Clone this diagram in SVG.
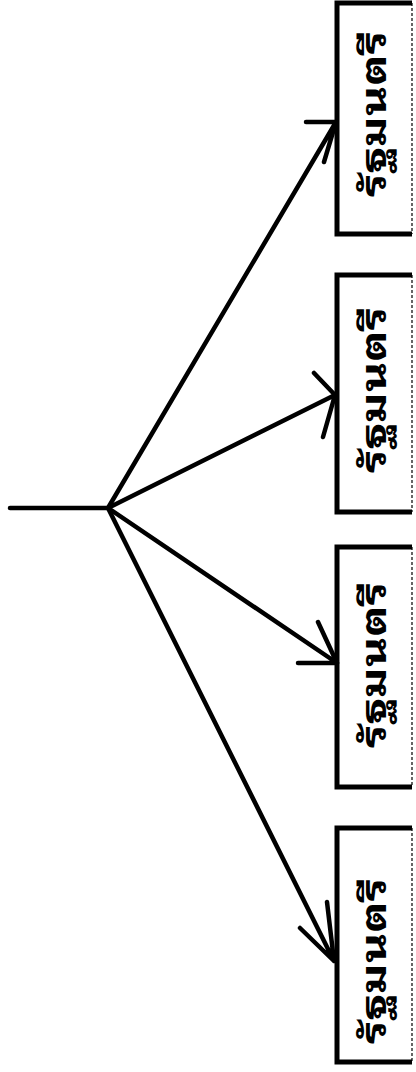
<svg xmlns="http://www.w3.org/2000/svg" width="416" height="1072" viewBox="0 0 416 1072">
<style>
.box{fill:#fff;stroke:#000;stroke-width:5}
.edge{stroke:#000;stroke-width:1.2;stroke-dasharray:3 2}
.lbl{font-family:"Noto Sans Thai Looped","Noto Serif Thai","Garuda","Loma","Kinnari","Norasi","Tlwg Typo","Noto Sans Thai",sans-serif;font-weight:bold;font-size:35px;fill:#000}
.ln{fill:none;stroke:#000;stroke-width:4.5;stroke-linecap:round;stroke-linejoin:round}
</style>
<rect width="416" height="1072" fill="#fff"/>
<g id="node1">
<path class="box" d="M412,3 H337 V234 H412"/>
<line class="edge" x1="412" y1="3" x2="412" y2="234"/>
<text class="lbl" transform="translate(386,197) rotate(-90)" textLength="166" lengthAdjust="spacingAndGlyphs">รัฐมนตรี</text>
</g>
<g id="node2">
<path class="box" d="M412,275 H337 V512 H412"/>
<line class="edge" x1="412" y1="275" x2="412" y2="512"/>
<text class="lbl" transform="translate(386,473) rotate(-90)" textLength="166" lengthAdjust="spacingAndGlyphs">รัฐมนตรี</text>
</g>
<g id="node3">
<path class="box" d="M412,547 H337 V787 H412"/>
<line class="edge" x1="412" y1="547" x2="412" y2="787"/>
<text class="lbl" transform="translate(386,748) rotate(-90)" textLength="166" lengthAdjust="spacingAndGlyphs">รัฐมนตรี</text>
</g>
<g id="node4">
<path class="box" d="M412,828 H337 V1062 H412"/>
<line class="edge" x1="412" y1="828" x2="412" y2="1062"/>
<text class="lbl" transform="translate(386,1044) rotate(-90)" textLength="166" lengthAdjust="spacingAndGlyphs">รัฐมนตรี</text>
</g>
<g id="connectors">
<line class="ln" x1="10" y1="508" x2="108" y2="508"/>
<path class="ln" d="M108,508 L336,122 M306,122 L336,122 L324,162"/>
<path class="ln" d="M108,508 L335,395 M314,373 L335,395 L323,437"/>
<path class="ln" d="M108,508 L337,663 M318,622 L337,663 L298,663"/>
<path class="ln" d="M108,508 L334,961 M300,928 L334,961 L327,902"/>
</g>
</svg>
